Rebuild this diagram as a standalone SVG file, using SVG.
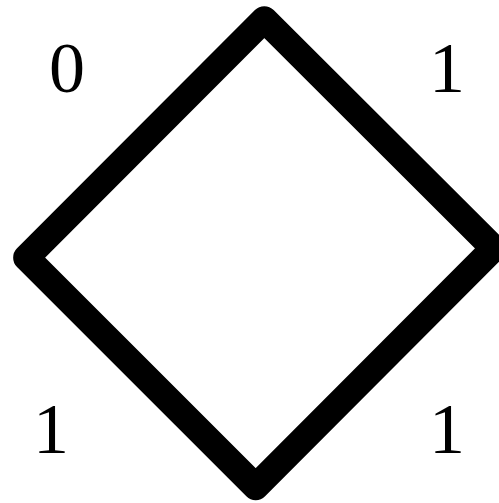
<svg xmlns="http://www.w3.org/2000/svg" width="499" height="503" viewBox="0 0 499 503">
<style>
.edge{fill:none;stroke:#000;stroke-width:26.5;stroke-linejoin:round;stroke-linecap:round}
.lbl{font-family:"Liberation Serif","Times New Roman",serif;font-size:72px;fill:#000;text-anchor:middle}
</style>
<rect width="499" height="503" fill="#fff"/>
<g id="connectors">
<polygon class="edge" points="264.3,19.4 493.7,248.3 255.7,486.9 26.4,257.7"/>
</g>
<g id="label-tl"><text class="lbl" x="67" y="92">0</text></g>
<g id="label-tr"><text class="lbl" x="447" y="92">1</text></g>
<g id="label-bl"><text class="lbl" x="51" y="453">1</text></g>
<g id="label-br"><text class="lbl" x="447" y="453">1</text></g>
</svg>
